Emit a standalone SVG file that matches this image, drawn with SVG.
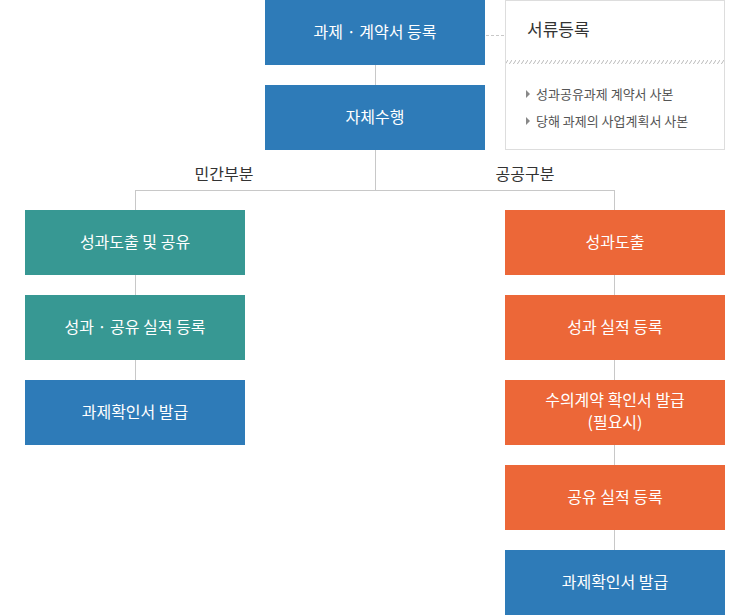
<svg xmlns="http://www.w3.org/2000/svg" width="750" height="615" viewBox="0 0 750 615">
<style>
.box text{font-family:"Noto Sans CJK KR","Noto Sans",sans-serif;font-size:16px;fill:#fff;text-anchor:middle}
.blue{fill:#2e7bb8}
.teal{fill:#379893}
.orange{fill:#ec6738}
.lbl{font-family:"Noto Sans CJK KR","Noto Sans",sans-serif;font-size:16px;fill:#333;text-anchor:middle}
.item{font-family:"Noto Sans CJK KR","Noto Sans",sans-serif;font-size:13px;fill:#555}
.conn line{stroke:#c8c8c8;stroke-width:1}
</style>
<defs>
<pattern id="hatch" width="4" height="6" patternUnits="userSpaceOnUse">
<line x1="0" y1="6" x2="4" y2="0" stroke="#bbb" stroke-width="1"/>
</pattern>
</defs>
<rect width="750" height="615" fill="#fff"/>
<g class="conn">
<line x1="375.5" y1="65" x2="375.5" y2="85"/>
<line x1="375.5" y1="150" x2="375.5" y2="190"/>
<line x1="135" y1="190.5" x2="615" y2="190.5"/>
<line x1="135.5" y1="190" x2="135.5" y2="210"/>
<line x1="614.5" y1="190" x2="614.5" y2="210"/>
<line x1="135.5" y1="275" x2="135.5" y2="295"/>
<line x1="135.5" y1="360" x2="135.5" y2="380"/>
<line x1="614.5" y1="275" x2="614.5" y2="295"/>
<line x1="614.5" y1="360" x2="614.5" y2="380"/>
<line x1="614.5" y1="445" x2="614.5" y2="465"/>
<line x1="614.5" y1="530" x2="614.5" y2="550"/>
<line x1="486" y1="35.5" x2="505" y2="35.5" stroke-dasharray="3,2"/>
</g>
<g id="n1" class="box"><rect class="blue" x="265" y="0" width="220" height="65"/><text x="375" y="38">과제 · 계약서 등록</text></g>
<g id="docs">
<rect x="505.5" y="0.5" width="219" height="149" fill="#fff" stroke="#ddd"/>
<text x="527" y="36" style="font-family:'Noto Sans CJK KR','Noto Sans',sans-serif;font-size:17px;fill:#333">서류등록</text>
<rect x="506" y="60" width="218" height="4" fill="url(#hatch)"/>
<polygon points="526,90 530,94 526,98" fill="#888"/>
<text class="item" x="536" y="98.5">성과공유과제 계약서 사본</text>
<polygon points="526,117 530,121 526,125" fill="#888"/>
<text class="item" x="536" y="125.5">당해 과제의 사업계획서 사본</text>
</g>
<g id="n2" class="box"><rect class="blue" x="265" y="85" width="220" height="65"/><text x="375" y="123">자체수행</text></g>
<text class="lbl" x="224" y="180">민간부분</text>
<text class="lbl" x="525" y="180">공공구분</text>
<g id="l1" class="box"><rect class="teal" x="25" y="210" width="220" height="65"/><text x="135" y="248">성과도출 및 공유</text></g>
<g id="l2" class="box"><rect class="teal" x="25" y="295" width="220" height="65"/><text x="135" y="333">성과 · 공유 실적 등록</text></g>
<g id="l3" class="box"><rect class="blue" x="25" y="380" width="220" height="65"/><text x="135" y="418">과제확인서 발급</text></g>
<g id="r1" class="box"><rect class="orange" x="505" y="210" width="220" height="65"/><text x="615" y="248">성과도출</text></g>
<g id="r2" class="box"><rect class="orange" x="505" y="295" width="220" height="65"/><text x="615" y="333">성과 실적 등록</text></g>
<g id="r3" class="box"><rect class="orange" x="505" y="380" width="220" height="65"/><text x="615" y="406">수의계약 확인서 발급</text><text x="615" y="428">(필요시)</text></g>
<g id="r4" class="box"><rect class="orange" x="505" y="465" width="220" height="65"/><text x="615" y="503">공유 실적 등록</text></g>
<g id="r5" class="box"><rect class="blue" x="505" y="550" width="220" height="65"/><text x="615" y="588">과제확인서 발급</text></g>
</svg>
